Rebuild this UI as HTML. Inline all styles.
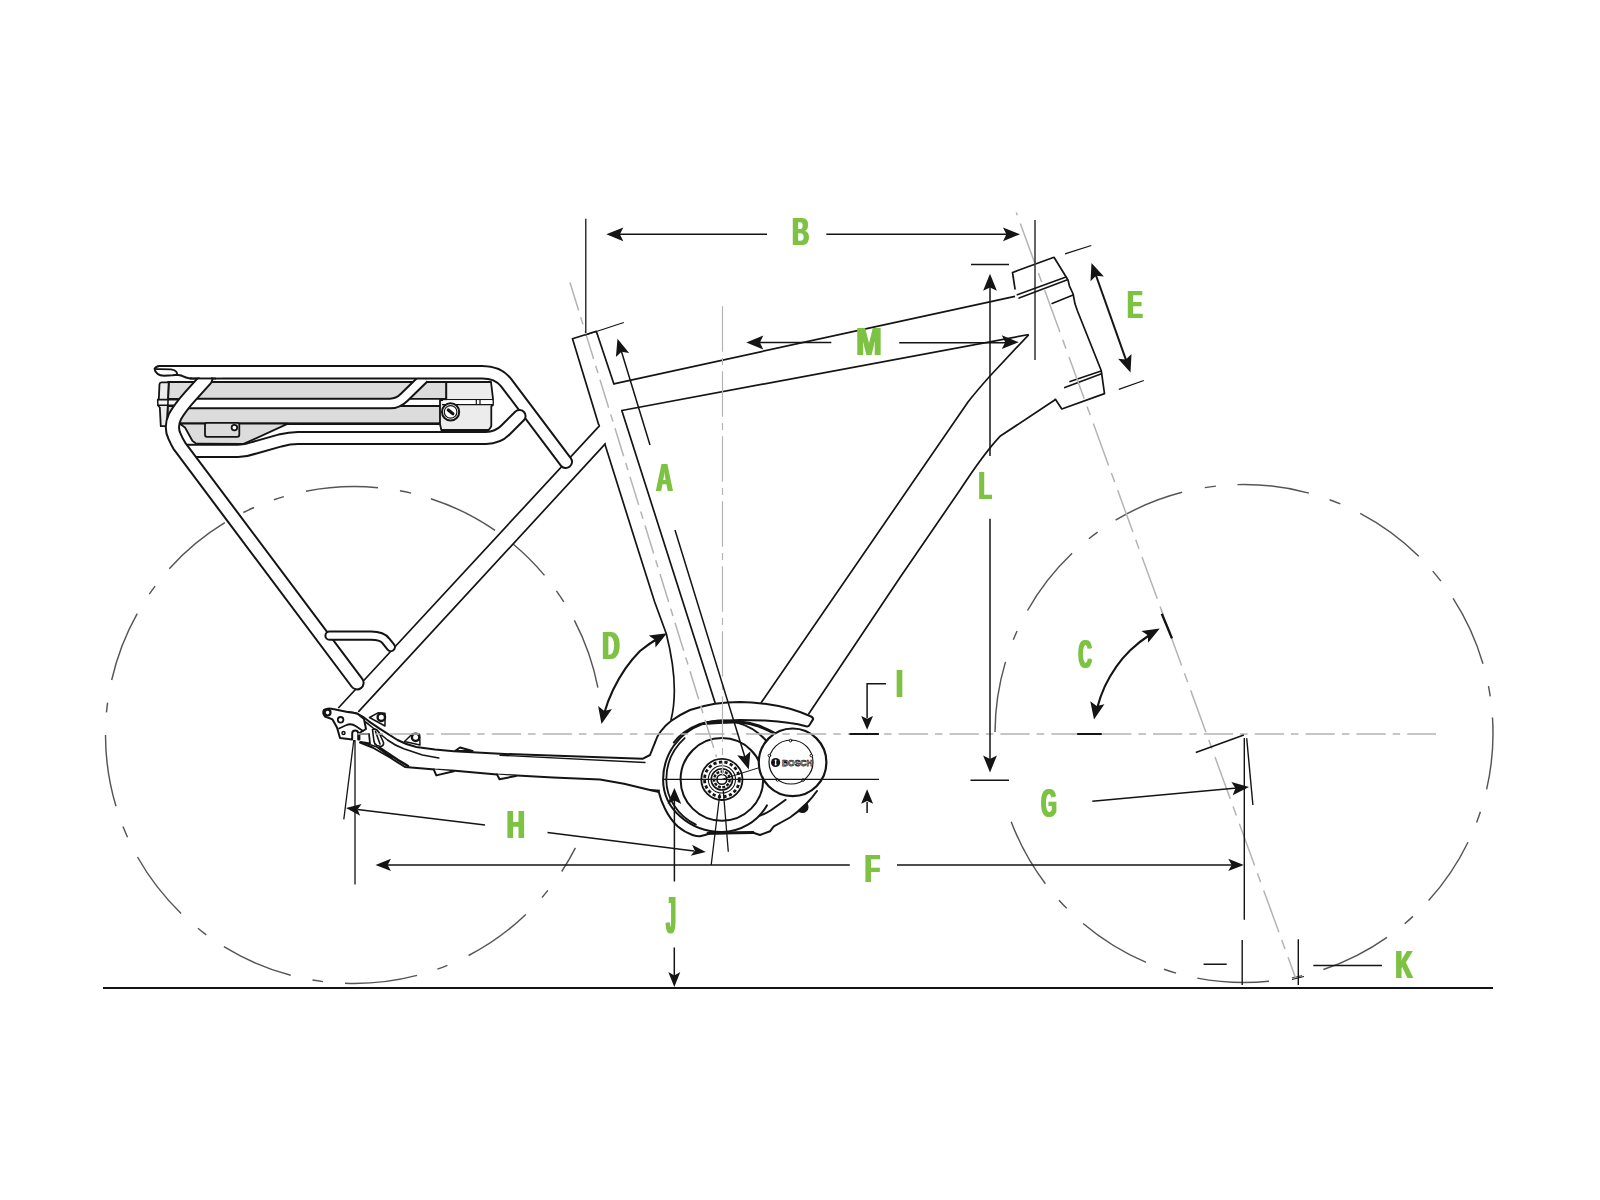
<!DOCTYPE html>
<html><head><meta charset="utf-8"><title>Frame geometry</title>
<style>
html,body{margin:0;padding:0;background:#fff;}
body{width:1600px;height:1200px;overflow:hidden;}
svg{display:block;}
.lbl{font-family:"Liberation Sans",sans-serif;font-weight:700;fill:#7dc242;}
</style></head><body>
<svg width="1600" height="1200" viewBox="0 0 1600 1200">
<rect width="1600" height="1200" fill="#fff"/>
<path d="M111.7,680.0 A248.5,248.5 0 0 1 137.2,613.6 M149.3,594.2 A248.5,248.5 0 0 1 155.1,586.1 M169.3,568.7 A248.5,248.5 0 0 1 224.8,522.7 M243.3,512.5 A248.5,248.5 0 0 1 254.0,507.5 M273.9,499.8 A248.5,248.5 0 0 1 283.9,496.6 M306.0,491.2 A248.5,248.5 0 0 1 378.0,487.7 M399.9,490.8 A248.5,248.5 0 0 1 411.1,493.1 M430.9,498.7 A248.5,248.5 0 0 1 495.1,530.4 M512.7,543.8 A248.5,248.5 0 0 1 544.5,575.4 M556.4,590.8 A248.5,248.5 0 0 1 563.8,601.8 M574.4,620.3 A248.5,248.5 0 0 1 597.9,687.7 M575.4,847.9 A248.5,248.5 0 0 1 561.7,871.5 M547.9,890.4 A248.5,248.5 0 0 1 542.0,897.5 M525.8,914.5 A248.5,248.5 0 0 1 468.6,955.5 M447.4,965.3 A248.5,248.5 0 0 1 437.4,969.1 M417.1,975.4 A248.5,248.5 0 0 1 345.0,983.3 M323.0,981.6 A248.5,248.5 0 0 1 312.5,980.0 M290.7,975.3 A248.5,248.5 0 0 1 223.9,946.7 M206.3,934.9 A248.5,248.5 0 0 1 197.9,928.3 M181.1,913.4 A248.5,248.5 0 0 1 137.5,857.0 M127.5,837.2 A248.5,248.5 0 0 1 123.0,826.6 M116.0,806.3 A248.5,248.5 0 0 1 105.5,735.0 M106.5,712.4 A248.5,248.5 0 0 1 107.6,702.7" fill="none" stroke="#555" stroke-width="1.45"/>
<path d="M1204.8,487.6 A249.0,249.0 0 0 1 1215.9,486.1 M1237.5,484.6 A249.0,249.0 0 0 1 1308.9,493.1 M1329.6,499.7 A249.0,249.0 0 0 1 1340.3,503.9 M1360.2,513.3 A249.0,249.0 0 0 1 1418.8,556.2 M1432.7,571.1 A249.0,249.0 0 0 1 1440.9,581.1 M1453.1,598.3 A249.0,249.0 0 0 1 1483.0,663.8 M1488.5,686.2 A249.0,249.0 0 0 1 1490.2,696.3 M1492.5,717.5 A249.0,249.0 0 0 1 1486.6,789.4 M1480.4,811.7 A249.0,249.0 0 0 1 1476.6,822.4 M995.0,732.0 A249.0,249.0 0 0 1 1005.5,661.9 M1013.3,639.8 A249.0,249.0 0 0 1 1017.1,631.0 M1027.5,610.5 A249.0,249.0 0 0 1 1072.1,553.3 M1088.9,538.7 A249.0,249.0 0 0 1 1097.6,532.1 M1115.6,520.2 A249.0,249.0 0 0 1 1182.1,492.3 M1045.4,883.7 A249.0,249.0 0 0 1 1011.2,821.7 M1066.7,908.3 A249.0,249.0 0 0 1 1059.0,900.2 M1146.1,962.4 A249.0,249.0 0 0 1 1083.1,923.5 M1176.1,973.1 A249.0,249.0 0 0 1 1164.0,969.3 M1269.0,981.2 A249.0,249.0 0 0 1 1197.3,978.1 M1302.1,975.6 A249.0,249.0 0 0 1 1291.9,977.9 M1387.0,937.3 A249.0,249.0 0 0 1 1323.4,969.5 M1413.0,916.4 A249.0,249.0 0 0 1 1404.7,923.7 M1468.0,842.3 A249.0,249.0 0 0 1 1428.6,900.6" fill="none" stroke="#555" stroke-width="1.45"/>
<line x1="103" y1="988" x2="1493" y2="988" stroke="#141414" stroke-width="2.2"/>
<g stroke="#141414" stroke-width="1.8" stroke-linejoin="round" fill="none">
<rect x="168" y="382" width="278.3" height="16.8" fill="#dcdcdc"/>
<rect x="167" y="406" width="273.5" height="17.6" fill="#dcdcdc"/>
<path d="M161.5,382.3 H168.8 L167,426.2 H160.8 L159.8,407.5 L158,405.5 L157.8,399.8 L158.8,399 L159.5,384 Q159.7,382.4 161.5,382.3Z" fill="#ececec"/>
<rect x="158.6" y="400.3" width="22" height="4.3" fill="#f6f6f6" stroke="none"/>
<path d="M168.8,382.3 L167,426.2 M157.8,399.6 H181 M158,405.3 H178" stroke-width="1.6"/>
<line x1="176" y1="423.8" x2="441" y2="423.8" stroke-width="2.6"/>
<path d="M179.4,423.6 H288 L242.5,444.4 H197.5 L192.5,441 L185,427.5 Z" fill="#dcdcdc"/>
<line x1="197" y1="444.2" x2="243" y2="444.4" stroke-width="3"/>
<rect x="205" y="422.8" width="34.3" height="14" rx="2" fill="#dcdcdc"/>
<circle cx="234.4" cy="427.6" r="2.8" fill="#fff"/>
<path d="M446.3,382 H491 L493,398.8 V405 L491.3,406.3 V426.3 L488.8,430 H441.3 L440,424 V400 H446.3 Z" fill="#ececec"/>
<path d="M442,399.6 H493 M442,404.6 H493 M476.3,399.6 V404.6 M480,399.6 V404.6" stroke-width="1.3"/>
<rect x="443" y="400.2" width="49.5" height="3.8" fill="#fff" stroke="none"/>
<path d="M476.3,399.6 V404.6 M480,399.6 V404.6" stroke-width="1.2"/>
<circle cx="450.6" cy="411.9" r="8.6" fill="#fff" stroke-width="2"/>
<circle cx="450.6" cy="411.9" r="6.3" fill="#fff" stroke-width="1.2"/>
<line x1="448.3" y1="410" x2="452.9" y2="413.8" stroke-width="3.2" stroke-linecap="round"/>
</g>
<g stroke="#141414" stroke-width="1.7" stroke-linejoin="round" stroke-linecap="round" fill="#fff">
<path d="M602.5,422.5 L338.8,707.5 L358.8,711.3 L608.8,440 Z" stroke="none"/>
<path d="M603.3,421.6 L338.8,707.5 M609.6,439.2 L358.8,711.3" fill="none"/>
<path d="M1028.6,334.8 L990,376 Q977,390.5 968,402 L761.3,702.5 L808.8,713.8 L900,577.5 L960,490 C975,467 988,449 1000,436.3 L1055.5,399.5 Z" stroke="none"/>
<path d="M1028.6,334.8 L990,376 Q977,390.5 968,402 L761.3,702.5 M808.8,713.8 L900,577.5 L960,490 C975,467 988,449 1000,436.3 L1055.5,399.5" fill="none"/>
<path d="M613.8,383.8 L1015,296.3 L1028.8,334.5 L621.8,410.5 Z" stroke="none"/>
<path d="M613.8,383.8 L1015,296.3 M1028.8,334.5 L621.8,410.5" fill="none"/>
<path d="M572.5,338.8 L596.3,331.3 L715,702.5 L690,720 L672,716 C676,700 676,672 666.3,633.8 Z" stroke="none"/>
<path d="M598.6,424.5 L572.5,338.8 L596.3,331.3 L613.8,383.8 M621.8,410.5 L715,702.5 M605,444.4 L635,540 L654.5,601.5 L666.3,633.8 C676,672 676,700 671,720" fill="none"/>
<path d="M1012.5,272.5 L1054,257.3 L1066,276.8 L1068,280 L1069.4,285.8 L1073.1,294 L1075,303.8 L1077.3,310.5 L1101.3,370.8 L1104.5,393.6 L1061.8,409 L1055.4,399.3 L1028.8,334.5 L1015,296.3 L1015,288.8 Z" stroke="none"/>
<path d="M1015,288.8 L1012.5,272.5 L1054,257.3 L1066,276.8 L1068,280 L1069.4,285.8 L1073.1,294 L1075,303.8 L1077.3,310.5 L1101.3,370.8 L1104.5,393.6 L1061.8,409 L1055.4,399.3" fill="none"/>
<path d="M1017.3,294.8 L1066,277.1 M1019.1,298.1 L1066.8,280.1 M1052.1,303.4 L1073.1,295.1 M1070,381.6 L1101.1,371.1 M1064.8,387.6 L1101.5,373.8" fill="none" stroke-width="1.6"/>
</g>
<path d="M424,378 L404,397.5 Q398,403.5 390,403.5 H186" fill="none" stroke="#141414" stroke-width="11.6" stroke-linecap="butt" stroke-linejoin="round"/>
<path d="M424,378 L404,397.5 Q398,403.5 390,403.5 H186" fill="none" stroke="#fff" stroke-width="7.6" stroke-linecap="butt" stroke-linejoin="round"/>
<path d="M163,372.2 H482 Q498.1,372.2 506,382.5 L565.8,461.8" fill="none" stroke="#141414" stroke-width="14.4" stroke-linecap="round" stroke-linejoin="round"/>
<path d="M163,372.2 H482 Q498.1,372.2 506,382.5 L565.8,461.8" fill="none" stroke="#fff" stroke-width="10.4" stroke-linecap="round" stroke-linejoin="round"/>
<rect x="150" y="363" width="50" height="17.5" fill="#fff"/>
<path d="M201,366 H159.5 Q156,366.3 154.6,368.8 Q155,372 157.5,373.8 Q160,375.5 164,375.8 L172.5,375.3 Q175.5,375 177,374.7 Q180,375 182,375.8 Q186,377.8 190,378.4 H201" fill="#fff" stroke="#141414" stroke-width="2" stroke-linejoin="round"/>
<path d="M155,368.9 Q157,369.3 160,369.2 L171,369.3 Q175,369.8 176.5,372 Q177.4,373.5 177,374.7" fill="none" stroke="#141414" stroke-width="1.8"/>
<path d="M188,450.8 H238 Q246,450.8 254,447.8 L280,440.5 Q290,438 298,438 H486 Q498,437.7 505.5,430 L519.5,416" fill="none" stroke="#141414" stroke-width="14.2" stroke-linecap="round" stroke-linejoin="round"/>
<path d="M188,450.8 H238 Q246,450.8 254,447.8 L280,440.5 Q290,438 298,438 H486 Q498,437.7 505.5,430 L519.5,416" fill="none" stroke="#fff" stroke-width="10.2" stroke-linecap="round" stroke-linejoin="round"/>
<path d="M205.8,379 L190,396.5 Q180.5,407 175,416.5 Q170,427 174.6,436.5 Q176.8,441.5 179.5,446 L357,682.8" fill="none" stroke="#141414" stroke-width="15.2" stroke-linecap="round" stroke-linejoin="round"/>
<path d="M205.8,379 L190,396.5 Q180.5,407 175,416.5 Q170,427 174.6,436.5 Q176.8,441.5 179.5,446 L357,682.8" fill="none" stroke="#fff" stroke-width="11.2" stroke-linecap="round" stroke-linejoin="round"/>
<path d="M329.5,635.7 H371 Q382,635.7 386,641 L390.8,647" fill="none" stroke="#141414" stroke-width="10.2" stroke-linecap="round" stroke-linejoin="round"/>
<path d="M329.5,635.7 H371 Q382,635.7 386,641 L390.8,647" fill="none" stroke="#fff" stroke-width="6.2" stroke-linecap="round" stroke-linejoin="round"/>
<line x1="190" y1="378.4" x2="216" y2="378.4" stroke="#141414" stroke-width="2"/>
<rect x="192" y="368" width="30" height="9.2" fill="#fff"/>
<g stroke="#141414" stroke-width="2" stroke-linejoin="round" stroke-linecap="round" fill="#fff">
<path d="M347.5,712 Q354,712.5 357.5,713.8 Q364,716.5 368.8,721.3 L380,728.8 L397.5,740 Q407,745 416.3,747 L435,749.4 L453.8,751.3 L500,753.8 L642.5,758.8 L650,755 L655,742.5 L662,730 L690,745 L670,791 L663.8,791 L650,790 L624,783.8 L600,779.6 L553,777.6 L497,774.4 L455,770.8 L435,769.6 L405,767 L390,757.5 L372.5,747.5 L360,742.5 Z" stroke="none"/>
<path d="M347.5,712 Q354,712.5 357.5,713.8 Q364,716.5 368.8,721.3 L380,728.8 L397.5,740 Q407,745 416.3,747 L435,749.4 L453.8,751.3 L500,753.8 L642.5,758.8 L650,755 L655,742.5" fill="none"/>
<path d="M360,742.5 L372.5,747.5 L390,757.5 L405,767 L435,769.6 L455,770.8 L497,774.4 L553,777.6 L600,779.6 L624,783.8 L650,790 L663.8,791" fill="none"/>
<path d="M348.8,716.3 Q355,716.5 360,718.8 Q367,722.5 372.5,727.5 L387.5,740 Q395,745.5 403.8,748.8 L422.5,755 L438.8,758" fill="none" stroke-width="1.6"/>
<path d="M500,755.2 L645,762.5" fill="none" stroke-width="1.4"/>
<path d="M360,734 H369 L370,743.5 L360.5,742 M362,742 L377,747 L392,758" fill="none" stroke-width="1.8"/><path d="M372.5,729.5 Q376.5,728 379,732.5 L383.5,742.5 Q384,746 380.5,746.5 L377,745.5 Q374.5,744.5 374,741.5 Z M375.5,731.5 L380,744" stroke-width="1.6"/>
<path d="M380,748 L398,760 L408,766" fill="none" stroke-width="2.6"/>
<path d="M455,751 L460,747.5 L472.5,751 Z M433.8,769.6 L436.3,775.4 L453.8,771.2 M497,774.4 L499.5,779.2 L516,776"/>
<path d="M369.5,717.5 L378,712.8 L385,713.3 L385,726 Z" stroke-width="1.5"/>
<circle cx="381.3" cy="717.3" r="3.7" stroke-width="2.4"/>
<path d="M404.5,741.5 L412.5,733.8 L419.5,734.3 L420,745 Z" stroke-width="1.5"/>
<circle cx="415.6" cy="737.3" r="3.7" stroke-width="2.4"/>
<path d="M324,709.8 Q328,707.5 333,709 L347.5,712 Q354,712.5 357.5,713.8 L364,719 L366,729 L359.4,733 L359.4,739.4 L358.2,739.4 L358.2,733.5 A3,3 0 0 0 352.2,733.5 L352.2,739.4 L340,738 L337,727.5 L332.5,719.4 L325,716.5 Q322,713 324,709.8 Z"/>
<path d="M339,728.5 L346,725.3 Q351,722.8 356,726.2 L363,731" fill="none" stroke-width="1.8"/>
<circle cx="327.6" cy="712.6" r="2.9" stroke-width="2.2"/>
<circle cx="340.6" cy="719.8" r="2.8" stroke-width="1.8"/>
<circle cx="343.5" cy="733" r="1.5" stroke-width="1.5"/>
</g>
<g stroke="#141414" stroke-width="2" stroke-linejoin="round" stroke-linecap="round" fill="none">
<path d="M658,742.5 L661,731 L671,721 L690,710 L715,703.8 L740,702 L765,703.8 L790,708.8 L810,716 L813,719.4 L808.8,726.3 L800,730 A34,34 0 0 1 815,793.8 L806.3,803.8 L790,817.5 L773.8,826.3 L770,831.3 L760,835 L752.5,832.5 L710,833.5 L700,836.3 L692.5,835 L677.5,826.3 L665,808.8 L660,793 L659,760 Z" fill="#fff" stroke="none"/>
<path d="M655,742.5 Q657,736 661,731 Q665,725.5 671,721 Q680,714.5 690,710 Q702,706 715,703.8 Q727,702 740,702 Q752,702.3 765,703.8 Q778,705.5 790,708.8 Q801,712 810,716 Q813.5,717.3 813,719.4 L809.5,725 Q808.5,726.8 806,726.3 Q798,724 790,723 Q778,721.2 765,720.6 Q752,720 740,720 Q727,720.3 715,721 Q707,722 700,724 Q691,727.5 683.8,732.5 Q678,737 673.8,742.5" fill="#fff"/>
<path d="M704,723.6 Q722,721.5 740,722 Q750,723 758.8,726 Q768,729.5 776,734" stroke-width="3"/>
<path d="M766.9,741.6 A58.8,58.8 0 0 0 663.1,779.4 A58.8,52.6 0 0 0 721.9,832.0 A52.6,52.6 0 0 0 766.9,805.4"/>
<path d="M684.7,738.1 A55.6,55.6 0 0 0 666.3,779.4 A55.6,51.2 0 0 0 695.8,824.6" stroke-width="1.8"/>
<path d="M650,790 L658.8,792 Q661,801 665,808.8 Q670,819 677.5,826.3 Q685,832.5 692.5,835 Q697,836.5 700,836.3 Q705,835 710,833.5 L752.5,832.5 L760,835 L770,831.3 L773.8,826.3 Q782,822 790,817.5 Q799,811.5 806.3,803.8 Q812,798 817,791"/>
<line x1="708" y1="833.3" x2="753" y2="832.5" stroke-width="3"/>
<path d="M785.6,799.8 Q778,805.5 771.3,810 Q766,813.5 760,815.6"/>
<path d="M798.5,810.5 A4.2,4.2 0 0 0 806.5,803.5 Z" fill="#141414" stroke-width="1.5"/>
<circle cx="721.9" cy="779.4" r="41.3"/>
<circle cx="792.6" cy="762.3" r="33.8" fill="#fff" stroke-width="2.2"/>
<circle cx="791" cy="762" r="22" stroke-width="1.2"/>
<circle cx="790.6" cy="740.6" r="1.3" fill="#fff" stroke-width="1"/>
<circle cx="769.4" cy="755.6" r="1.3" fill="#fff" stroke-width="1"/>
<circle cx="811.3" cy="755.6" r="1.3" fill="#fff" stroke-width="1"/>
<circle cx="777.5" cy="780.0" r="1.3" fill="#fff" stroke-width="1"/>
<circle cx="803.1" cy="780.0" r="1.3" fill="#fff" stroke-width="1"/>
<circle cx="775.6" cy="762.5" r="4.6" fill="#141414" stroke="none"/>
<circle cx="775.6" cy="760.6" r="1" fill="#fff" stroke="none"/><circle cx="775.6" cy="764.4" r="1" fill="#fff" stroke="none"/><rect x="775" y="760.6" width="1.2" height="3.8" fill="#fff" stroke="none"/>
<text x="782" y="766.2" font-family="Liberation Sans,sans-serif" font-weight="700" font-size="9.4" textLength="30.5" lengthAdjust="spacingAndGlyphs" fill="#fff" stroke="#141414" stroke-width="0.75">BOSCH</text>
<circle cx="721.9" cy="779.4" r="20.6" fill="#fff" stroke-width="1.8"/>
<circle cx="721.9" cy="779.4" r="17.4" stroke-width="2.8" stroke-dasharray="3.2 2.4" stroke-linecap="butt"/>
<circle cx="721.9" cy="779.4" r="13.6" stroke-width="1.1"/>
<circle cx="721.9" cy="779.4" r="10.6" stroke-width="1.6"/>
<circle cx="721.9" cy="779.4" r="7.8" stroke-width="2.4" stroke-dasharray="3 1.4" stroke-linecap="butt"/>
<circle cx="721.9" cy="779.4" r="4.9" fill="#fff" stroke-width="1.6"/>
</g>
<g stroke="#b4b4b4" stroke-width="1.5" fill="none" stroke-dasharray="29.3 7 7.5 7.06">
<line x1="357.5" y1="734" x2="1436" y2="734" stroke-dashoffset="18.3"/>
<line x1="570" y1="282.5" x2="716.5" y2="757" />
<line x1="722.5" y1="306.3" x2="722.5" y2="775" stroke-width="1.2" stroke-dasharray="45.5 6.25 7 6.25"/>
<line x1="1016.3" y1="212.5" x2="1296" y2="979" stroke-dasharray="44.5 8.2 9.5 8.8" stroke-dashoffset="59.3"/>
</g>
<g stroke="#141414" stroke-width="1.5" fill="none" stroke-linecap="butt">
<path d="M585.8,218.8 V333 M1035,220 V360" stroke-width="1.3"/>
<path d="M618,234.3 H767 M826.3,234.3 H1008"/>
<path d="M585,335.2 L623.8,322.5" stroke-width="1.2"/>
<path d="M758,342.6 H831.3 M899.2,342.8 H1007"/>
<path d="M621,350 L650,445 M675,530 L745.5,759"/>
<path d="M971,264.5 H1009 M970.5,780.3 H1009" />
<path d="M990,285 V456 M990,518.8 V761"/>
<path d="M1065,253.8 L1091.3,245.5 M1118.8,389.3 L1143.8,380.5" stroke-width="1.3"/>
<path d="M1095.5,274 L1126.5,361.3" stroke-width="2"/>
<path d="M1151,634 Q1139.5,641.5 1130,650.4 Q1115,665 1104.8,686.4 Q1100,697 1097,708.5" stroke-width="2.1"/>
<path d="M1161.8,613.8 L1172,638.4" stroke-width="2.4"/>
<path d="M1077.2,733.9 H1101.8 M849.5,733.9 H878.9" stroke-width="2"/>
<path d="M658.5,638 Q648.5,644 640,651 Q624,667 613,690 Q607.5,701.5 604.3,713" stroke-width="2.1"/>
<path d="M886,683.7 H867.1 V718"/>
<path d="M867.1,802 V813"/>
<path d="M663.8,779.4 H879" stroke-width="1.3"/>
<path d="M721.9,779.4 L758,768" stroke-width="1"/>
<path d="M674.4,799 V881.5 M674.3,947.5 V976"/>
<path d="M387,864.9 H849.8 M897,864.9 H1232"/>
<path d="M357.5,809.4 L485,825 M547.5,832.5 L694,851"/>
<path d="M353.8,740 L343.8,819.4 M355,740 V884.5 M719.8,794 L711.2,865 M723.3,790.8 L728.3,851.7" stroke-width="1.3"/>
<path d="M1092.3,801.2 L1237,788"/>
<path d="M1195.8,752.5 L1243.8,735" stroke-width="1.6"/>
<path d="M1244.3,738 V919.7 M1242.2,940 V985 M1246.7,738.3 L1252.9,805 M1298.3,939.2 V985" stroke-width="1.4"/>
<path d="M1203.6,964.2 H1226.7 M1313.3,965.5 H1382" stroke-width="1.4"/>
<path d="M1292,979.5 L1304,976.5" stroke-width="1"/>
</g>
<polygon points="606.3,234.3 623.3,227.4 619.9,234.3 623.3,241.2" fill="#141414"/>
<polygon points="1020.0,234.3 1003.0,241.2 1006.4,234.3 1003.0,227.4" fill="#141414"/>
<polygon points="746.3,342.5 763.3,335.6 759.9,342.5 763.3,349.4" fill="#141414"/>
<polygon points="1018.8,342.2 1001.8,349.1 1005.2,342.2 1001.8,335.3" fill="#141414"/>
<polygon points="617.5,338.8 629.1,353.0 621.5,351.8 615.9,357.1" fill="#141414"/>
<polygon points="748.8,769.5 737.2,755.3 744.8,756.5 750.4,751.2" fill="#141414"/>
<polygon points="990.0,273.8 996.9,290.8 990.0,287.4 983.1,290.8" fill="#141414"/>
<polygon points="990.0,772.5 983.1,755.5 990.0,758.9 996.9,755.5" fill="#141414"/>
<polygon points="1091.5,262.9 1103.9,276.5 1096.1,275.7 1090.5,281.3" fill="#141414"/>
<polygon points="1130.5,372.4 1118.1,358.8 1125.9,359.6 1131.5,354.0" fill="#141414"/>
<polygon points="1159.8,628.4 1148.1,642.7 1147.8,635.2 1141.5,631.0" fill="#141414"/>
<polygon points="1094.0,719.4 1090.3,701.3 1096.7,706.1 1104.4,704.2" fill="#141414"/>
<polygon points="667.0,633.2 655.5,647.4 655.1,639.9 648.8,635.6" fill="#141414"/>
<polygon points="601.5,724.0 598.1,706.1 604.3,710.9 612.0,709.1" fill="#141414"/>
<polygon points="867.1,729.7 861.2,716.0 867.1,718.8 873.0,716.0" fill="#141414"/>
<polygon points="867.1,789.2 873.1,803.7 867.1,800.9 861.1,803.7" fill="#141414"/>
<polygon points="674.4,788.0 681.3,804.0 674.4,800.6 667.5,804.0" fill="#141414"/>
<polygon points="674.3,987.0 668.3,972.0 674.3,975.4 680.3,972.0" fill="#141414"/>
<polygon points="375.5,864.9 391.0,858.7 387.6,864.9 391.0,871.1" fill="#141414"/>
<polygon points="1243.8,864.9 1228.3,871.1 1231.7,864.9 1228.3,858.7" fill="#141414"/>
<polygon points="346.0,808.0 361.6,803.9 357.5,809.4 360.2,815.8" fill="#141414"/>
<polygon points="705.8,852.1 690.7,855.8 694.8,850.7 692.1,844.7" fill="#141414"/>
<polygon points="1249.0,786.9 1232.7,795.2 1235.5,788.2 1231.4,781.9" fill="#141414"/>
<defs><filter id="emb" x="-5%" y="-5%" width="110%" height="110%" filterUnits="objectBoundingBox"><feMorphology operator="dilate" radius="1 0"/></filter></defs>
<g filter="url(#emb)">
<text class="lbl" font-size="100" transform="matrix(0.2269 0 0 0.3927 656.33 491.00)">A</text>
<text class="lbl" font-size="100" transform="matrix(0.2328 0 0 0.3942 792.13 245.00)">B</text>
<text class="lbl" font-size="100" transform="matrix(0.1832 0 0 0.4028 1078.47 668.30)">C</text>
<text class="lbl" font-size="100" transform="matrix(0.2416 0 0 0.3869 602.37 658.80)">D</text>
<text class="lbl" font-size="100" transform="matrix(0.2304 0 0 0.3869 1127.35 317.80)">E</text>
<text class="lbl" font-size="100" transform="matrix(0.2502 0 0 0.3927 864.81 882.20)">F</text>
<text class="lbl" font-size="100" transform="matrix(0.1970 0 0 0.3986 1041.21 817.30)">G</text>
<text class="lbl" font-size="100" transform="matrix(0.2502 0 0 0.3869 506.71 837.60)">H</text>
<text class="lbl" font-size="100" transform="matrix(0.2526 0 0 0.3855 895.89 697.10)">I</text>
<text class="lbl" font-size="100" transform="matrix(0.1693 0 0 0.5090 666.15 933.49)">J</text>
<text class="lbl" font-size="100" transform="matrix(0.2372 0 0 0.3840 1395.60 978.40)">K</text>
<text class="lbl" font-size="100" transform="matrix(0.2107 0 0 0.3956 978.78 499.20)">L</text>
<text class="lbl" font-size="100" transform="matrix(0.3054 0 0 0.3956 856.14 354.70)">M</text>
</g>
</svg>
</body></html>
